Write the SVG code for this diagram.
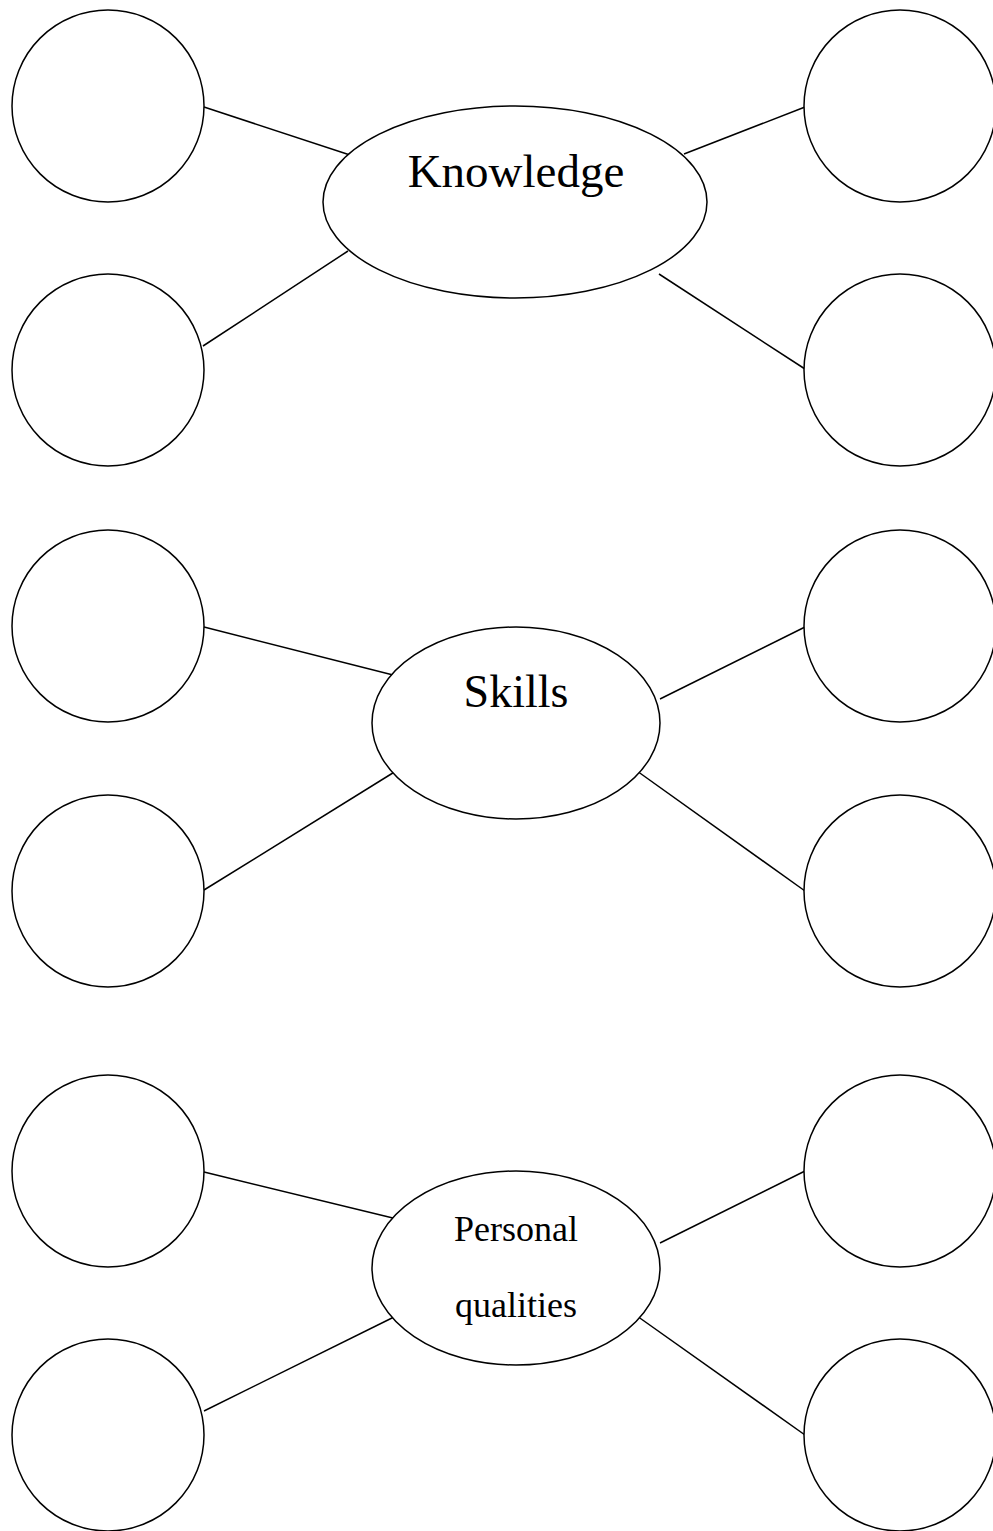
<svg xmlns="http://www.w3.org/2000/svg" width="993" height="1531" viewBox="0 0 993 1531">
<style>
.n{fill:#fff;stroke:#000;stroke-width:1.5}
.c line{stroke:#000;stroke-width:1.5}
.t{font-family:"Liberation Serif","Times New Roman",serif;fill:#000;text-anchor:middle}
</style>
<rect width="993" height="1531" fill="#fff"/>
<g class="c" id="connectors">
<line x1="204" y1="107" x2="350" y2="155"/>
<line x1="203" y1="346" x2="348" y2="251"/>
<line x1="684" y1="154" x2="805" y2="107"/>
<line x1="659" y1="274" x2="805" y2="369"/>
<line x1="204" y1="627" x2="397" y2="676"/>
<line x1="204" y1="890" x2="396" y2="771"/>
<line x1="660" y1="699" x2="805" y2="627"/>
<line x1="637" y1="771" x2="805" y2="891"/>
<line x1="204" y1="1172" x2="397" y2="1219"/>
<line x1="204" y1="1411" x2="396" y2="1316"/>
<line x1="660" y1="1243" x2="805" y2="1171"/>
<line x1="637" y1="1316" x2="805" y2="1435"/>
</g>
<g id="knowledge"><ellipse class="n" cx="515" cy="202" rx="192" ry="96"/><text class="t" x="516" y="187" font-size="47">Knowledge</text></g>
<g id="k1"><circle class="n" cx="108" cy="106" r="96"/></g>
<g id="k2"><circle class="n" cx="108" cy="370" r="96"/></g>
<g id="k3"><circle class="n" cx="900" cy="106" r="96"/></g>
<g id="k4"><circle class="n" cx="900" cy="370" r="96"/></g>
<g id="skills"><ellipse class="n" cx="516" cy="723" rx="144" ry="96"/><text class="t" x="516" y="707" font-size="46">Skills</text></g>
<g id="s1"><circle class="n" cx="108" cy="626" r="96"/></g>
<g id="s2"><circle class="n" cx="108" cy="891" r="96"/></g>
<g id="s3"><circle class="n" cx="900" cy="626" r="96"/></g>
<g id="s4"><circle class="n" cx="900" cy="891" r="96"/></g>
<g id="personal"><ellipse class="n" cx="516" cy="1268" rx="144" ry="97"/><text class="t" x="516" y="1241" font-size="36">Personal</text><text class="t" x="516" y="1317" font-size="36">qualities</text></g>
<g id="p1"><circle class="n" cx="108" cy="1171" r="96"/></g>
<g id="p2"><circle class="n" cx="108" cy="1435" r="96"/></g>
<g id="p3"><circle class="n" cx="900" cy="1171" r="96"/></g>
<g id="p4"><circle class="n" cx="900" cy="1435" r="96"/></g>
</svg>
